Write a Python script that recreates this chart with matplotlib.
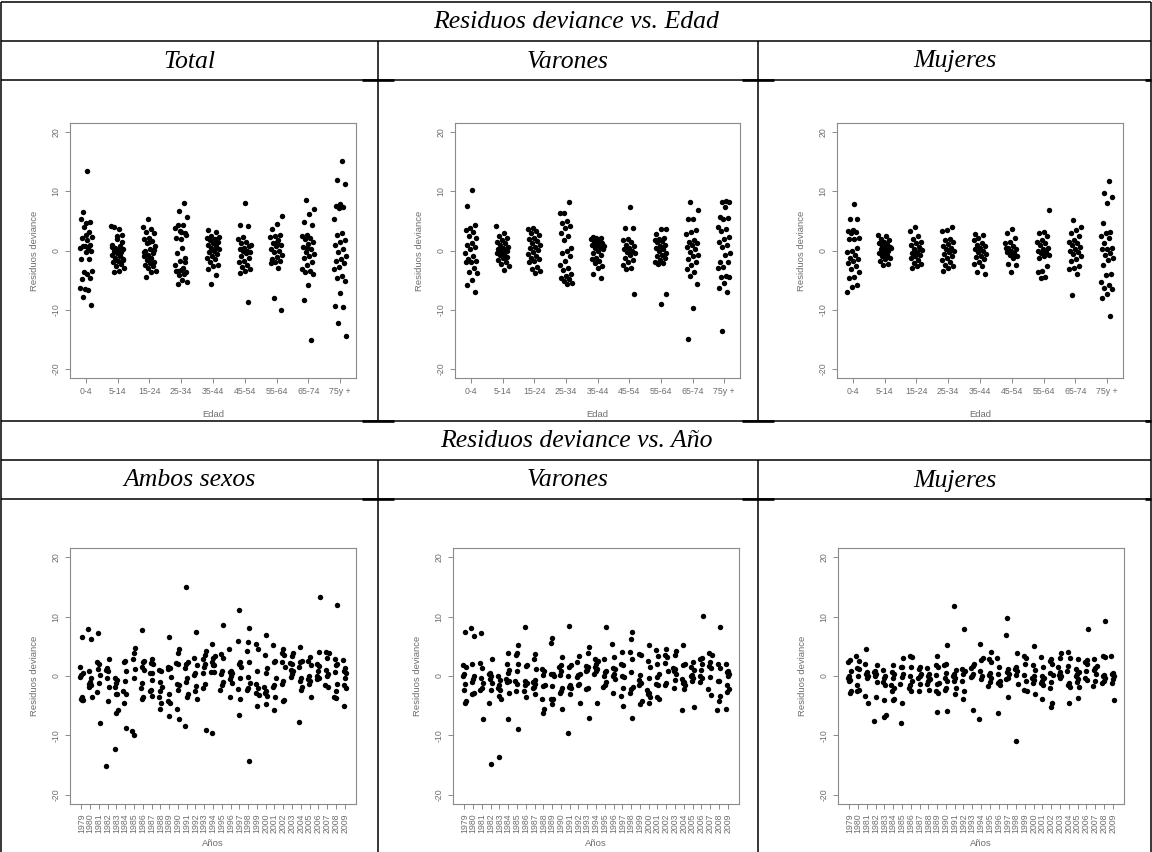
import matplotlib
matplotlib.use("Agg")
import matplotlib.pyplot as plt
from matplotlib.lines import Line2D

W, H = 1152, 852

edad_labels = ["0-4", "5-14", "15-24", "25-34", "35-44", "45-54", "55-64", "65-74", "75y +"]
year_labels = [str(y) for y in range(1979, 2010)]

total_edad = [
    [13.4, 6.6, 4.8, 4.6, 5.3, 3.1, 3.9, 2.3, 1.8, 2.1, 1.0, 0.8, 0.4, 0.5, 0.7, -0.1, -0.2, -1.4, -1.5,
     -3.6, -3.5, -3.9, -4.9, -4.6, -6.6, -6.3, -6.7, -7.8, -9.2, 2.6],
    [4.2, 3.7, 4.0, 2.7, 2.4, 1.0, 0.8, 0.5, 0.3, 0.1, 0.0, -0.3, -0.5, -0.7, -1.0, -1.2, -1.5, -1.8, -2.0,
     -2.3, -2.6, -3.0, -3.4, -3.7, 1.5, 2.0, 0.6, -0.9, 0.2, -1.6],
    [5.4, 4.0, 3.7, 3.2, 3.0, 2.2, 2.0, 1.6, 1.2, 0.8, 0.3, -0.1, -0.5, -0.8, -1.0, -1.3, -1.6, -1.9, -2.1,
     -2.4, -2.7, -3.0, -3.5, -3.7, -4.5, 0.1, 1.5, -0.3],
    [3.0, 3.3, 3.8, 4.3, 4.4, 2.7, 2.0, 2.2, 8.0, 6.7, 5.7, 0.4, -0.5, -1.3, -1.7, -2.5, -3.0, -3.5, -3.6,
     -3.3, -3.5, -3.9, -4.1, -5.3, -5.0, -5.6, -1.9, 3.1],
    [3.4, 3.2, 2.5, 2.2, 2.0, 1.8, 1.5, 1.2, 1.0, 0.7, 0.5, 0.3, 0.0, -0.3, -0.6, -0.9, -1.2, -1.5, -2.0,
     -2.4, -2.7, -3.1, -4.2, -5.7, 2.3, 0.1],
    [8.1, 4.4, 4.2, 2.3, 2.0, 1.5, 1.2, 0.8, 0.5, 0.3, 0.0, -0.1, -0.3, -0.5, -0.9, -1.3, -1.7, -2.0, -2.4,
     -2.8, -3.2, -3.5, -3.8, -8.7, 0.2, 1.0],
    [5.9, 4.5, 3.7, 2.7, 2.5, 2.3, 1.8, 1.3, 1.0, 0.8, 0.3, 0.0, -0.3, -0.7, -1.1, -1.4, -1.7, -1.9, -2.1,
     -3.0, -8.1, -10.0, 1.5, -1.6],
    [8.6, 7.0, 6.2, 4.8, 4.4, 2.7, 2.4, 2.2, 2.0, 1.5, 1.1, 0.6, 0.3, -0.2, -0.6, -0.9, -1.2, -2.0, -2.5,
     -3.2, -3.5, -3.7, -3.9, -5.9, -8.4, -15.2, 0.5],
    [15.1, 12.0, 11.2, 7.8, 7.5, 7.3, 7.2, 5.3, 2.9, 2.6, 1.7, 1.5, 1.0, 0.3, -0.2, -0.9, -1.4, -1.7, -2.2,
     -2.8, -3.2, -4.3, -4.7, -5.2, -7.2, -9.4, -9.6, -12.2, -14.4],
]

varones_edad = [
    [10.2, 7.5, 4.4, 3.8, 3.5, 3.2, 2.4, 2.2, 1.2, 0.9, 0.6, 0.2, -0.5, -1.0, -1.5, -1.7, -1.9, -2.0, -3.0,
     -3.7, -3.8, -5.0, -5.8, -7.0],
    [4.1, 2.9, 2.5, 2.1, 1.8, 1.5, 1.2, 0.9, 0.6, 0.4, 0.2, 0.0, -0.2, -0.4, -0.6, -0.8, -1.1, -1.3, -1.6,
     -1.9, -2.3, -2.6, -3.3, 0.3, -0.1],
    [3.8, 3.6, 3.3, 3.0, 2.6, 2.2, 1.9, 1.6, 1.3, 1.0, 0.6, 0.4, 0.1, -0.2, -0.6, -0.9, -1.2, -1.5, -1.7,
     -2.0, -2.8, -3.2, -3.5, -3.8],
    [8.2, 6.4, 6.3, 5.0, 4.6, 4.2, 3.8, 3.0, 2.5, 1.8, 0.5, 0.0, -0.5, -1.0, -1.8, -2.5, -2.9, -3.3, -4.0,
     -4.4, -4.6, -4.9, -5.2, -5.5, -5.6],
    [2.3, 2.2, 2.1, 2.0, 1.8, 1.6, 1.3, 1.1, 0.9, 0.6, 0.4, 0.2, -0.1, -0.4, -0.8, -1.2, -1.5, -1.8, -2.2,
     -2.6, -3.0, -3.9, -4.7, 1.0, 0.7],
    [7.4, 3.8, 3.8, 2.0, 1.7, 1.5, 1.0, 0.7, 0.5, 0.2, 0.0, -0.3, -0.5, -0.8, -1.3, -1.6, -1.9, -2.4, -2.9,
     -3.2, -7.3],
    [3.7, 3.6, 2.8, 2.2, 2.0, 1.8, 1.6, 1.4, 1.0, 0.7, 0.5, 0.2, -0.1, -0.4, -0.8, -1.0, -1.3, -1.6, -1.9,
     -2.1, -2.3, -7.3, -9.0],
    [8.3, 6.8, 5.3, 5.3, 3.5, 3.2, 2.8, 1.8, 1.5, 1.2, 0.9, 0.6, 0.3, -0.3, -0.7, -1.0, -1.4, -2.0, -2.5,
     -3.2, -3.6, -4.3, -5.6, -9.7, -15.0],
    [8.4, 8.3, 8.2, 7.4, 5.6, 5.5, 5.3, 4.0, 3.6, 3.3, 2.3, 2.0, 1.5, 1.0, 0.6, -0.5, -0.8, -1.9, -2.0,
     -2.8, -3.0, -4.4, -4.5, -4.5, -5.5, -6.3, -7.0, -13.6],
]

mujeres_edad = [
    [7.9, 5.4, 5.3, 3.4, 3.3, 3.1, 3.0, 2.2, 2.0, 1.9, 0.4, 0.0, -0.3, -0.8, -1.2, -1.5, -1.8, -2.2, -2.6,
     -3.2, -3.6, -4.5, -4.6, -5.9, -6.1, -7.0],
    [2.7, 2.4, 2.0, 1.7, 1.5, 1.3, 1.1, 0.8, 0.6, 0.4, 0.2, 0.0, -0.2, -0.4, -0.7, -1.0, -1.2, -1.5, -1.8,
     -2.3, -2.5, 0.5, -0.6],
    [3.9, 3.3, 2.5, 2.0, 1.5, 1.2, 0.9, 0.6, 0.3, 0.1, -0.2, -0.4, -0.7, -1.0, -1.3, -1.6, -2.1, -2.3, -2.7,
     -3.0, 0.2, -0.9],
    [4.0, 3.5, 3.3, 2.0, 1.7, 1.4, 1.1, 0.8, 0.5, 0.2, 0.0, -0.3, -0.6, -0.9, -1.2, -1.6, -2.0, -2.5, -2.7,
     -3.0, -3.5],
    [2.8, 2.7, 2.1, 1.7, 1.3, 1.0, 0.7, 0.4, 0.2, 0.0, -0.3, -0.6, -0.9, -1.1, -1.4, -1.9, -2.3, -2.6, -3.6,
     -4.0],
    [3.7, 2.9, 2.1, 1.5, 1.2, 0.8, 0.5, 0.2, 0.0, -0.2, -0.5, -0.8, -1.0, -1.2, -2.3, -2.4, -3.7, 0.4, -0.9],
    [6.9, 3.2, 3.0, 2.5, 1.7, 1.5, 1.3, 1.0, 0.5, 0.2, 0.0, -0.2, -0.5, -0.8, -1.0, -1.3, -2.7, -3.5, -3.6,
     -4.5, -4.6],
    [5.1, 4.0, 3.4, 3.0, 2.5, 1.8, 1.5, 1.2, 0.9, 0.6, 0.3, 0.0, -0.3, -0.6, -1.0, -1.5, -1.8, -2.6, -3.0,
     -3.2, -4.0, -7.6],
    [11.7, 9.8, 9.1, 8.0, 4.6, 3.2, 3.0, 2.5, 2.2, 1.2, 0.5, 0.3, 0.2, -0.5, -0.8, -1.3, -1.6, -2.5, -4.0,
     -4.1, -5.3, -5.9, -6.3, -6.6, -7.4, -8.0, -11.1],
]

ambos_anio = [
    [6.5, 1.6, 0.5, 0.2, -0.2, -3.5, -3.8, -4.0, -4.1],
    [8.0, 6.2, 0.8, -0.3, -1.0, -1.4, -1.6, -1.8, -3.6],
    [7.2, 2.3, 2.0, 1.2, 0.2, -1.2, -2.7, -8.0],
    [2.9, 1.4, 1.0, 0.8, -0.4, -1.9, -4.3, -15.2],
    [-0.3, -0.6, -1.1, -1.9, -3.0, -3.1, -5.7, -6.3, -12.3],
    [2.6, 2.3, 0.8, -0.8, -2.5, -3.0, -4.6, -8.7],
    [4.8, 3.8, 2.8, 1.1, -0.4, -9.3, -10.0],
    [7.8, 2.5, 2.4, 1.5, 1.0, -1.2, -2.1, -3.5, -3.8],
    [2.8, 2.2, 2.0, 0.5, 0.5, -0.7, -2.3, -2.5, -3.3],
    [1.0, 0.8, -1.0, -1.8, -2.5, -3.5, -4.6, -5.5],
    [6.6, 1.6, 1.3, 1.1, -0.2, -3.0, -4.2, -4.5, -6.7],
    [4.5, 3.9, 2.2, 2.1, -1.3, -1.6, -2.3, -5.6, -7.2],
    [15.1, 2.4, 2.0, 1.3, -0.3, -1.0, -3.0, -3.6, -8.4],
    [7.4, 3.1, 1.8, 0.5, 0.2, -1.7, -2.5, -3.8],
    [4.3, 3.5, 2.9, 2.0, 1.5, 0.5, -1.3, -2.1, -9.1],
    [5.4, 3.4, 3.1, 2.3, 1.9, 1.8, 0.6, 0.6, -9.6],
    [8.6, 3.7, 3.0, 0.8, 0.3, -1.0, -1.5, -2.4],
    [4.5, 0.8, 0.6, 0.5, 0.0, -0.5, -1.2, -3.5],
    [11.2, 5.9, 2.3, 2.0, 1.5, -0.4, -2.2, -3.8, -6.5],
    [8.1, 5.7, 4.2, 2.3, -0.2, -1.2, -2.0, -2.3, -14.4],
    [5.4, 4.6, 0.9, -1.4, -2.0, -2.8, -3.2, -5.1],
    [7.0, 3.5, 1.4, 0.5, -1.8, -2.5, -2.8, -3.3, -4.8],
    [5.3, 2.6, 2.4, -0.3, -1.5, -1.8, -3.6, -5.8],
    [4.5, 3.9, 3.6, 2.3, 1.6, -0.8, -1.3, -4.0, -4.3],
    [3.8, 3.3, 2.2, 2.0, 1.0, 0.8, 0.4, -0.2],
    [4.9, 2.5, 2.3, 1.6, -0.3, -0.8, -1.8, -2.3, -7.7],
    [3.2, 2.5, 1.8, 0.0, -0.5, -0.9, -1.3, -3.6],
    [13.4, 4.0, 2.0, 1.7, 0.9, 0.0, -0.3, -0.5],
    [4.1, 3.9, 3.0, 1.0, 0.3, 0.0, -1.5, -1.8],
    [12.0, 2.9, 2.0, 1.8, 0.6, -1.3, -2.6, -3.5, -3.7],
    [2.7, 1.4, 0.8, 0.5, -0.3, -1.5, -2.0, -5.1],
]

varones_anio = [
    [7.4, 1.9, 1.5, 0.3, 0.0, -1.4, -2.4, -4.3, -4.6],
    [8.1, 6.7, 2.0, 0.0, -0.5, -1.0, -2.8, -3.1],
    [7.3, 2.2, 1.3, -0.3, -1.1, -2.0, -2.3, -7.3],
    [2.8, 0.5, 0.3, 0.0, -0.5, -1.2, -2.3, -4.5, -14.9],
    [0.0, -0.6, -1.6, -2.0, -2.4, -3.4, -3.9, -13.6],
    [3.9, 2.0, 1.0, 0.5, -0.5, -0.8, -1.0, -2.8, -7.3],
    [5.2, 3.8, 3.5, 2.1, 0.9, -0.8, -1.3, -2.6, -8.9],
    [8.3, 1.8, 1.7, -0.8, -1.2, -1.5, -2.6, -3.6],
    [3.7, 2.9, 1.1, -0.6, -1.0, -1.4, -1.8, -2.0, -3.0],
    [1.2, 0.8, 0.1, -1.6, -1.7, -3.8, -5.6, -6.3],
    [6.4, 5.6, 0.4, 0.3, 0.0, -1.7, -3.8, -3.9, -4.8],
    [3.2, 1.8, 1.5, 0.8, 0.2, -2.1, -2.6, -2.8, -5.5],
    [8.4, 1.8, 1.5, 0.0, -1.6, -1.8, -2.0, -3.0, -9.7],
    [3.4, 2.4, 0.4, 0.2, -0.1, -1.3, -1.5, -4.5],
    [4.9, 3.8, 1.7, 1.5, 1.0, 0.8, -2.0, -2.2, -7.1],
    [2.9, 2.5, 2.0, 1.5, 1.2, 0.8, 0.3, -4.5],
    [8.3, 2.9, 0.9, 0.6, 0.0, -1.0, -1.5, -1.8],
    [5.4, 3.2, 1.4, 1.2, 0.3, 0.0, -0.5, -2.8],
    [4.0, 2.1, 1.9, 0.0, -0.2, -2.0, -3.4, -5.0],
    [7.4, 6.3, 4.1, 2.9, 0.6, -1.8, -2.2, -2.8, -7.1],
    [3.7, 3.5, 0.1, -0.6, -1.2, -1.6, -4.3, -4.8],
    [5.3, 2.5, 1.6, -0.4, -2.3, -2.8, -3.1, -3.5, -4.5],
    [4.4, 3.4, 2.0, 0.3, -0.1, -1.4, -1.6, -3.6, -3.8],
    [4.6, 3.6, 3.2, 2.2, 0.8, -1.2, -1.5],
    [4.3, 3.6, 1.3, 1.1, 0.8, 0.4, -0.6, -2.1],
    [5.3, 2.0, 1.9, -0.5, -1.0, -1.2, -1.6, -2.2, -5.8],
    [2.3, 1.6, 1.0, 0.2, 0.0, -0.3, -0.8, -5.2],
    [10.2, 3.0, 2.9, 2.0, 1.0, 0.0, -0.3, -1.0],
    [3.8, 3.6, 2.4, 1.7, 1.3, -0.2, -2.2, -3.2],
    [8.3, 2.0, 1.3, -0.8, -0.9, -3.3, -4.3, -5.7],
    [2.1, 0.8, 0.6, 0.3, 0.0, -1.5, -2.2, -2.7, -5.5],
]

mujeres_anio = [
    [2.7, 2.4, 0.8, 0.0, -0.3, -0.6, -0.8, -2.6, -2.9],
    [3.3, 2.5, 1.3, 1.2, 0.0, -1.5, -2.3, -2.6],
    [4.6, 2.0, 0.6, 0.3, 0.0, -0.3, -3.4, -4.5],
    [1.8, 0.9, 0.6, 0.3, 0.0, -1.0, -3.6, -7.6],
    [1.0, 0.0, -0.4, -1.0, -1.5, -4.0, -6.6, -7.0],
    [1.8, 0.7, 0.3, -0.4, -1.5, -2.0, -2.6, -3.8, -4.0],
    [3.1, 1.6, 1.5, 0.3, -0.1, -1.4, -4.6, -7.9],
    [3.4, 3.2, 1.6, 0.0, -0.8, -1.6, -2.1, -2.6],
    [1.6, 1.2, 0.3, 0.0, -0.3, -1.3, -2.6],
    [1.4, 0.3, 0.0, -0.5, -0.8, -1.3, -2.4],
    [3.3, 1.8, 1.6, 0.1, -1.2, -1.4, -2.6, -2.9, -6.1],
    [5.3, 2.1, 1.8, 0.5, -0.4, -0.8, -2.1, -2.4, -5.9],
    [11.8, 1.0, 0.3, 0.0, -0.3, -0.9, -2.0, -3.0],
    [8.0, 1.2, 0.9, 0.4, -0.9, -2.6, -3.8],
    [2.1, 1.7, 1.3, 0.3, 0.0, -0.1, -5.8],
    [5.4, 3.0, 2.7, 0.9, 0.0, -0.5, -7.3],
    [4.0, 2.8, 2.4, 0.5, 0.1, -0.3, -1.0, -1.7],
    [3.0, 1.5, 0.3, -0.8, -1.0, -1.2, -1.5, -6.2],
    [9.8, 6.9, 1.2, 0.6, 0.3, -0.3, -0.5, -3.6],
    [3.8, 1.6, 1.2, 0.8, 0.1, -1.3, -11.0],
    [3.3, 3.0, 2.0, 0.2, -0.9, -2.4, -2.6],
    [5.1, 1.9, 1.0, 0.0, -0.4, -0.7, -1.2, -3.1],
    [3.2, 1.5, 0.0, -0.4, -0.8, -1.2, -1.6, -3.8],
    [2.9, 2.5, 2.1, 0.5, 0.1, -1.0, -2.1, -4.5, -5.2],
    [3.9, 3.1, 1.6, 0.6, 0.2, 0.0, -0.4],
    [4.0, 3.1, 1.7, 0.9, -1.2, -1.5, -1.9, -4.6],
    [2.9, 1.2, 0.6, 0.3, 0.0, -0.5, -1.0, -1.9, -3.7],
    [7.9, 2.7, 2.3, 2.0, 0.8, -0.4, -0.6],
    [2.9, 1.7, 1.3, 1.0, 0.3, -0.9, -1.7],
    [9.2, 3.3, 3.2, 0.2, 0.0, -0.4, -0.8, -1.1],
    [3.3, 0.5, 0.3, 0.0, -0.5, -1.1, -4.0],
]

title_top = "Residuos deviance vs. Edad"
title_bottom = "Residuos deviance vs. Año"
col_top = ["Total", "Varones", "Mujeres"]
col_bottom = ["Ambos sexos", "Varones", "Mujeres"]

GRAY = "#8a8a8a"
TXT = "#6e6e6e"
SANS = ["Liberation Sans", "DejaVu Sans"]

fig = plt.figure(figsize=(W / 100, H / 100), dpi=100)
fig.patch.set_facecolor("white")


def fx(x):
    return x / W


def fy(y):
    return 1 - y / H


def jitter_offsets(n, seed, amount):
    # deterministic low-discrepancy spread, in place of R's jitter()
    return [amount * (((i + 1) * 0.6180339887 + seed * 0.3819660113) % 1.0 * 2 - 1) for i in range(n)]


def panel(box, groups, labels, xlabel, years=False):
    x0, x1, y0, y1 = box
    ax = fig.add_axes([fx(x0), fy(y1), fx(x1) - fx(x0), fy(y0) - fy(y1)])
    n = len(groups)
    for g, vals in enumerate(groups):
        offs = jitter_offsets(len(vals), g, 0.2)
        xs = [g + 1 + o for o in offs]
        ax.plot(xs, vals, "o", ms=3.9, color="black", mew=0)
    if years:
        ax.set_xlim(1 - 1.29, n + 1.29)
    else:
        ax.set_xlim(0.5, n + 0.5)
    ax.set_ylim(-21.6, 21.6)
    ax.set_xticks(range(1, n + 1))
    ax.set_xticklabels(labels, rotation=90 if years else 0, fontsize=6.3,
                       color=TXT, family=SANS)
    ax.set_yticks([-20, -10, 0, 10, 20])
    ax.set_yticklabels(["-20", "-10", "0", "10", "20"], rotation=90, va="center",
                       fontsize=6.3, color=TXT, family=SANS)
    for s in ax.spines.values():
        s.set_color(GRAY)
        s.set_linewidth(0.8)
    ax.tick_params(axis="both", colors=GRAY, length=3.8, width=0.7, pad=3)
    ax.tick_params(axis="both", labelcolor=TXT)
    ax.set_xlabel(xlabel, fontsize=6.8, color=TXT, family=SANS, labelpad=4 if years else 10)
    ax.set_ylabel("Residuos deviance", fontsize=6.8, color=TXT, family=SANS, labelpad=9)
    return ax


# table geometry (pixels)
rows = [2, 41, 80, 421, 460, 499]
cols = [1, 378, 758, 1151]

panel((70, 356, 123, 378), total_edad, edad_labels, "Edad")
panel((455, 740, 123, 378), varones_edad, edad_labels, "Edad")
panel((837, 1123, 123, 378), mujeres_edad, edad_labels, "Edad")
panel((70, 356, 548, 804), ambos_anio, year_labels, "Años", years=True)
panel((453, 739, 548, 804), varones_anio, year_labels, "Años", years=True)
panel((838, 1124, 548, 804), mujeres_anio, year_labels, "Años", years=True)


def hline(y, xa, xb, lw=1.1):
    fig.add_artist(Line2D([fx(xa), fx(xb)], [fy(y), fy(y)], color="black", lw=lw,
                          solid_capstyle="butt"))


def vline(x, ya, yb, lw=1.1):
    fig.add_artist(Line2D([fx(x), fx(x)], [fy(ya), fy(yb)], color="black", lw=lw,
                          solid_capstyle="butt"))


for y in rows:
    hline(y, cols[0], cols[-1])
vline(cols[0], rows[0], H)
vline(cols[-1], rows[0], H)
for c in cols[1:-1]:
    vline(c, rows[1], rows[3])
    vline(c, rows[4], H)
# small thicker segments where image cells meet the borders
for y in [rows[2], rows[3], rows[5]]:
    for c in cols[1:-1]:
        hline(y, c - 16, c + 16, lw=1.9)
    hline(y, cols[-1] - 6, cols[-1], lw=1.9)

serif = dict(family=["Liberation Serif", "DejaVu Serif"], style="italic", fontsize=18.5,
             ha="center", va="center", color="black")
fig.text(fx(576), fy((rows[0] + rows[1]) / 2 + 1), title_top, **serif)
fig.text(fx(576), fy((rows[3] + rows[4]) / 2 + 1), title_bottom, **serif)
for i in range(3):
    cx = (cols[i] + cols[i + 1]) / 2
    fig.text(fx(cx), fy((rows[1] + rows[2]) / 2 + 1), col_top[i], **serif)
    fig.text(fx(cx), fy((rows[4] + rows[5]) / 2 + 1), col_bottom[i], **serif)

fig.savefig("out.png", dpi=100, facecolor="white")
